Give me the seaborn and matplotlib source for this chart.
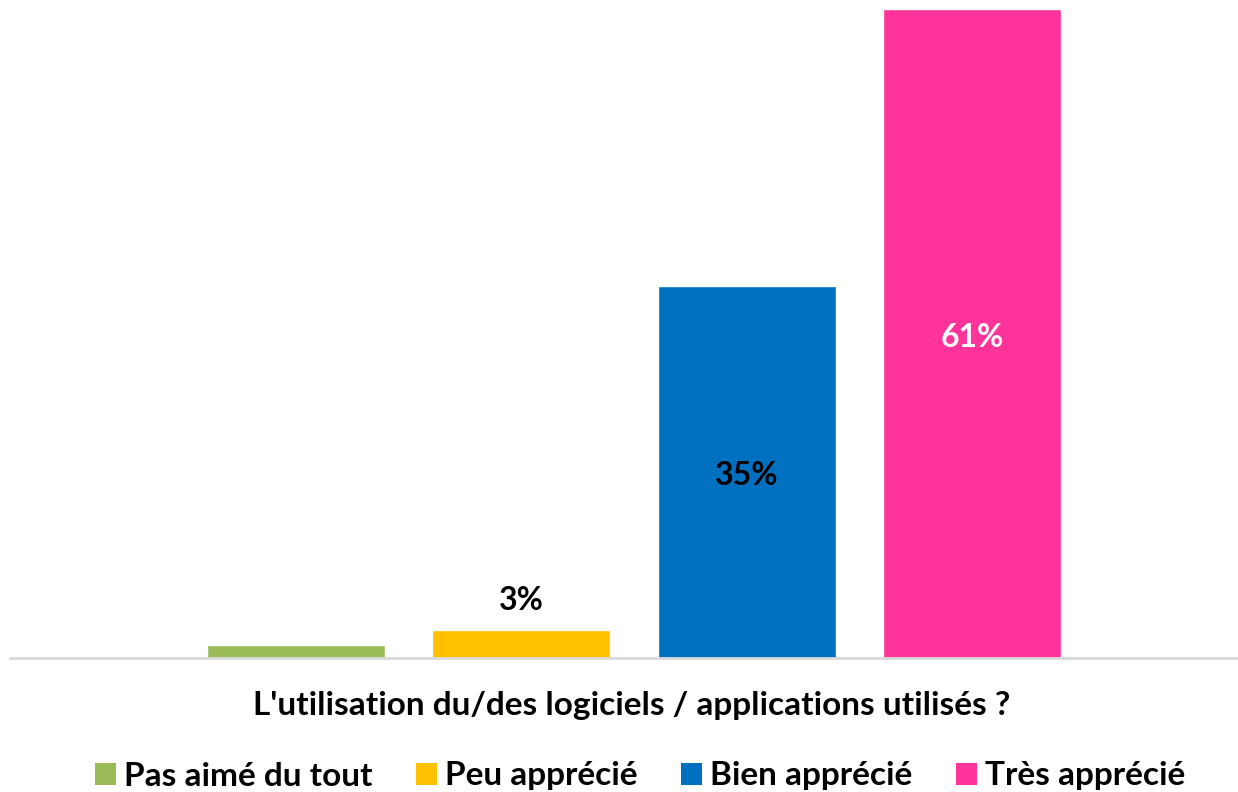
import matplotlib
matplotlib.use("Agg")
import matplotlib.pyplot as plt
import seaborn as sns
import pandas as pd
from matplotlib.patches import Patch

categories = ["Pas aimé du tout", "Peu apprécié", "Bien apprécié", "Très apprécié"]
values = [1.2, 2.6, 35, 61]
labels = ["", "3%", "35%", "61%"]
colors = ["#9BBB59", "#FFC000", "#0070C0", "#FF3399"]
axis_title = "L'utilisation du/des logiciels / applications utilisés ?"

sns.set_style("white")
plt.rcParams['font.family'] = ['Lato', 'DejaVu Sans']
plt.rcParams['font.weight'] = 'bold'
plt.rcParams['text.color'] = 'black'

W, H = 1238, 792
fig = plt.figure(figsize=(W / 100, H / 100), dpi=100)
ax = fig.add_axes([10 / W, 1 - 658 / H, (W - 10) / W, 658 / H])

df = pd.DataFrame({"cat": categories, "val": values})
sns.barplot(data=df, x="cat", y="val", hue="cat", palette=colors, order=categories,
            hue_order=categories, width=0.79, legend=False, ax=ax, saturation=1)

ax.set_xlim(-1.27, 4.18)
ax.set_ylim(0, 61 * 658 / 649)
ax.set_xticks([])
ax.set_yticks([])
ax.set_xlabel("")
ax.set_ylabel("")
for s in ["top", "right", "left"]:
    ax.spines[s].set_visible(False)
ax.spines["bottom"].set_color("#D9D9D9")
ax.spines["bottom"].set_linewidth(2)

lfs = 23
fs = 24
for i, (v, lab) in enumerate(zip(values, labels)):
    if not lab:
        continue
    if v < 10:
        ax.annotate(lab, (i, v), xytext=(0, 30), textcoords="offset pixels",
                    ha="center", va="center", fontsize=lfs, fontweight="bold", color="black")
    else:
        ax.annotate(lab, (i, v / 2), xytext=(0, -4), textcoords="offset pixels",
                    ha="center", va="center", fontsize=lfs, fontweight="bold",
                    color="white" if i == 3 else "black")

fig.text(632 / W, 1 - 706 / H, axis_title, ha="center", va="center",
         fontsize=fs, fontweight="bold", color="black")

handles = [Patch(facecolor=c, edgecolor="none") for c in colors]
fig.legend(handles, categories, loc="center", bbox_to_anchor=(640 / W, 1 - 776 / H),
           ncol=4, frameon=False, handlelength=0.63, handleheight=0.63,
           handletextpad=0.25, columnspacing=1.3, labelcolor="black",
           prop={"weight": "bold", "size": fs})

fig.savefig("out.png", dpi=100)
